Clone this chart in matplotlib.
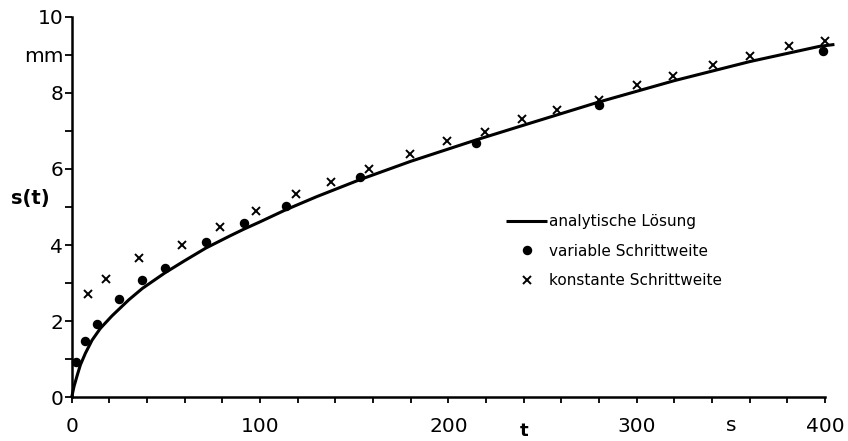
import matplotlib
matplotlib.use("Agg")
import matplotlib.pyplot as plt
from matplotlib.transforms import blended_transform_factory

# analytic solution
t_curve = [0, 1.2, 3, 4.6, 7.3, 10.8, 15.2, 21.4, 30.3, 37.5, 49.5, 60, 71.2, 84,
           91.5, 100, 113.8, 130, 153.1, 180, 214.6, 240, 280, 320, 360, 397, 405]
s_curve = [0, 0.28, 0.59, 0.85, 1.16, 1.5, 1.81, 2.14, 2.56, 2.86, 3.27, 3.59, 3.92, 4.24,
           4.42, 4.61, 4.93, 5.27, 5.72, 6.2, 6.76, 7.15, 7.76, 8.32, 8.82, 9.22, 9.27]

# variable step size (dots)
t_var = [2.3, 7.3, 13.4, 25.3, 37.5, 49.5, 71.2, 91.5, 113.8, 153.1, 214.6, 280.0, 398.8]
s_var = [0.94, 1.48, 1.93, 2.59, 3.07, 3.41, 4.07, 4.58, 5.03, 5.79, 6.68, 7.69, 9.10]

# constant step size (crosses)
t_const = [8.5, 18.2, 35.7, 58.6, 78.8, 97.9, 119.1, 137.5, 158.0, 179.7, 199.5, 219.6,
           239.0, 257.6, 280.2, 300.0, 319.5, 340.4, 360.2, 381.0, 400]
s_const = [2.71, 3.12, 3.65, 4.00, 4.47, 4.89, 5.34, 5.65, 5.99, 6.38, 6.74, 6.96,
           7.30, 7.55, 7.81, 8.20, 8.45, 8.74, 8.98, 9.23, 9.36]

x_ticks = list(range(0, 401, 20))
x_labeled = {0: "0", 100: "100", 200: "200", 300: "300", 400: "400"}
y_ticks = list(range(0, 11))
y_labels = ["0", "", "2", "", "4", "", "6", "", "8", "mm", "10"]

labels = ["analytische Lösung", "variable Schrittweite", "konstante Schrittweite"]

plt.rcParams['font.family'] = ['DejaVu Sans']

W, H = 848, 441
fig = plt.figure(figsize=(W / 100, H / 100), dpi=100)
ax = fig.add_axes([71.7 / W, 1 - 397.3 / H, (825 - 71.7) / W, (397.3 - 16.7) / H])
ax.set_xlim(0, 400)
ax.set_ylim(0, 10)

for side in ["top", "right"]:
    ax.spines[side].set_visible(False)
for side in ["left", "bottom"]:
    ax.spines[side].set_linewidth(1.8)
    ax.spines[side].set_color("black")

l1, = ax.plot(t_curve, s_curve, color="black", lw=2.2, clip_on=False, solid_capstyle="butt",
              solid_joinstyle="round")
l2, = ax.plot(t_var, s_var, "o", color="black", ms=5.8, clip_on=False, linestyle="none")
l3, = ax.plot(t_const, s_const, "x", color="black", ms=5.5, mew=1.4, clip_on=False, linestyle="none")

ax.set_xticks(x_ticks)
ax.set_xticklabels([x_labeled.get(v, "") for v in x_ticks])
ax.set_yticks(y_ticks)
ax.set_yticklabels(y_labels)
ax.tick_params(axis="x", direction="out", length=4, width=1.3, pad=10, labelsize=14.5)
ax.tick_params(axis="y", direction="out", length=5, width=1.3, pad=1, labelsize=14.5)

# unit "s" on x axis
trans = blended_transform_factory(ax.transData, ax.transAxes)
ax.annotate("s", xy=(350, 0), xycoords=trans, xytext=(0, -20), textcoords="offset points",
            ha="center", va="center", fontsize=14.5, annotation_clip=False)
# axis labels
fig.text(30 / W, 1 - 198 / H, "s(t)", ha="center", va="center", fontsize=14, fontweight="bold")
trans_fig = blended_transform_factory(ax.transData, fig.transFigure)
ax.text(240, 1.5 / H, "t", transform=trans_fig, ha="center", va="bottom",
        fontsize=13, fontweight="bold")

leg = ax.legend([l1, l2, l3], labels, loc="upper left",
                bbox_to_anchor=(506 / W, 1 - 214 / H), bbox_transform=fig.transFigure,
                frameon=False, borderpad=0, borderaxespad=0, handlelength=2.7,
                handletextpad=0.12, labelspacing=0.95, fontsize=11, numpoints=1)

fig.savefig("out.png", dpi=100)
